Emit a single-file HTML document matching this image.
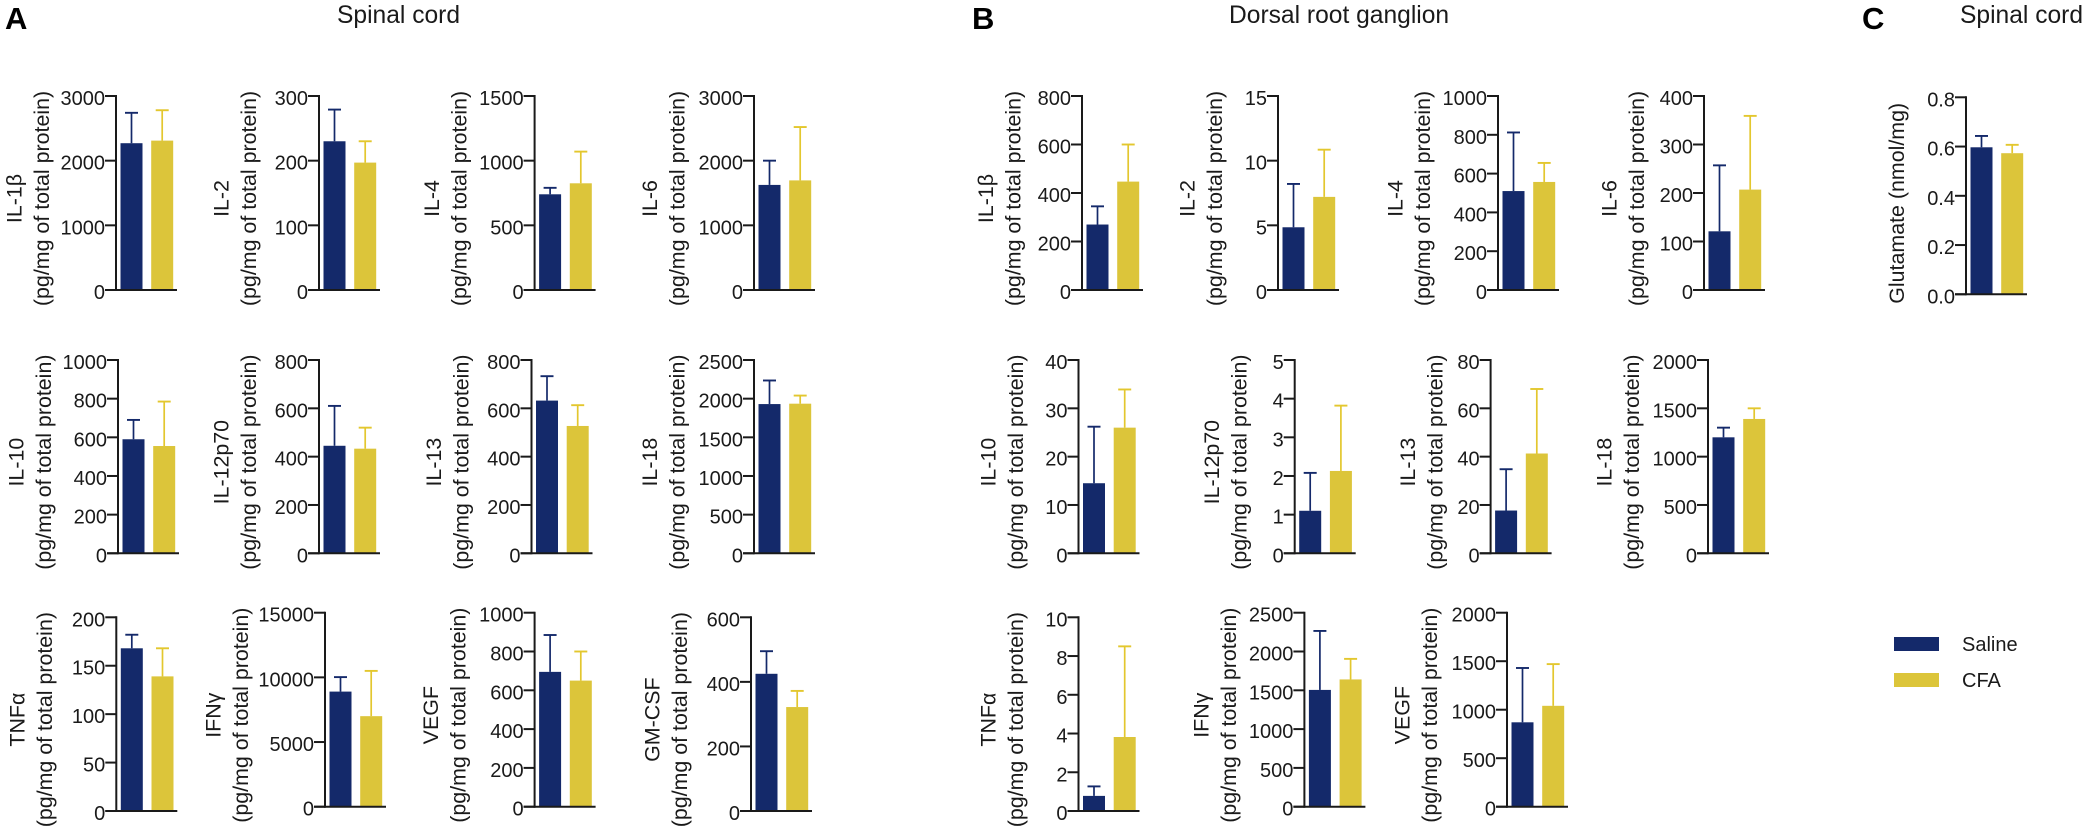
<!DOCTYPE html>
<html lang="en">
<head>
<meta charset="utf-8">
<title>Cytokine levels in spinal cord and dorsal root ganglion</title>
<style>
html,body{margin:0;padding:0;background:#fff;}
#figure{position:relative;width:2090px;height:833px;overflow:hidden;background:#fff;font-family:"Liberation Sans",Arial,sans-serif;color:#1a1a1a;}
svg{position:absolute;left:0;top:0;}
text{font-family:"Liberation Sans",Arial,sans-serif;fill:#1a1a1a;}
.hd{position:absolute;white-space:nowrap;line-height:1;}
.letter{font-weight:bold;font-size:31px;color:#000;}
.title{font-size:24.6px;}
.sw{position:absolute;left:1894px;width:45px;height:14px;}
.lg{position:absolute;left:1962px;font-size:20px;line-height:1;}
</style>
</head>
<body>
<div id="figure">
  <svg id="chart" width="2090" height="833" viewBox="0 0 2090 833"></svg>
  <div class="hd letter" style="left:5px;top:3px">A</div>
  <div class="hd title" style="left:337px;top:4px">Spinal cord</div>
  <div class="hd letter" style="left:972px;top:3px">B</div>
  <div class="hd title" style="left:1229px;top:4px">Dorsal root ganglion</div>
  <div class="hd letter" style="left:1862px;top:3px">C</div>
  <div class="hd title" style="left:1960px;top:4px">Spinal cord</div>
  <div class="sw" style="top:637px;background:#14296a"></div>
  <div class="lg" style="top:635px">Saline</div>
  <div class="sw" style="top:673px;background:#dcc53a"></div>
  <div class="lg" style="top:671px">CFA</div>
</div>
<script>
// ---- data: order is panel A (12), panel B (11), panel C (1) ----
const panelNames = ['IL-1β','IL-2','IL-4','IL-6','IL-10','IL-12p70','IL-13','IL-18','TNFα','IFNγ','VEGF','GM-CSF',
  'IL-1β','IL-2','IL-4','IL-6','IL-10','IL-12p70','IL-13','IL-18','TNFα','IFNγ','VEGF',
  'Glutamate (nmol/mg)'];
const unitLabel = '(pg/mg of total protein)';
const salineMean = [2270,230,740,1625,590,445,632,1930,168,8900,695,425,
  270,4.85,510,121,14.5,1.1,17.7,1200,0.78,1505,870,
  0.597];
const salineUpper = [2740,279,790,2000,690,610,733,2235,182,10020,885,495,
  345,8.2,812,257,26.2,2.08,34.8,1300,1.27,2265,1430,
  0.643];
const cfaMean = [2310,197,825,1695,555,433,527,1935,139,7000,650,322,
  447,7.2,557,207,26,2.13,41.3,1390,3.82,1640,1040,
  0.573];
const cfaUpper = [2780,230,1070,2520,785,520,613,2040,168,10500,800,372,
  600,10.85,655,359,33.9,3.82,68,1500,8.5,1905,1470,
  0.607];
const tickLabels = [
  ['0','1000','2000','3000'],['0','100','200','300'],['0','500','1000','1500'],['0','1000','2000','3000'],
  ['0','200','400','600','800','1000'],['0','200','400','600','800'],['0','200','400','600','800'],['0','500','1000','1500','2000','2500'],
  ['0','50','100','150','200'],['0','5000','10000','15000'],['0','200','400','600','800','1000'],['0','200','400','600'],
  ['0','200','400','600','800'],['0','5','10','15'],['0','200','400','600','800','1000'],['0','100','200','300','400'],
  ['0','10','20','30','40'],['0','1','2','3','4','5'],['0','20','40','60','80'],['0','500','1000','1500','2000'],
  ['0','2','4','6','8','10'],['0','500','1000','1500','2000','2500'],['0','500','1000','1500','2000'],
  ['0.0','0.2','0.4','0.6','0.8']
];

// ---- layout of the small multiples (not data) ----
const layoutAxisX = [116,319,534.6,754, 118,319,531.5,754, 116.3,325,534.6,751,
  1082,1278,1498,1704, 1078.5,1294.7,1490.6,1708, 1078.5,1304.4,1507, 1966];
const layoutTop = [96,96,96,96, 360,360,360,360, 617.3,612.7,612.7,617.3,
  96,96,96,96, 360,360,360,360, 617.3,612.7,612.7, 97.3];
const layoutBottom = [290,290,290,290, 553.3,553.3,553.3,553.3, 811,806.7,806.7,811,
  290,290,290,290, 553.3,553.3,553.3,553.3, 811,806.7,806.7, 294.3];
const layoutTitleX = [49,256,466.6,684.6, 50.8,256,468.5,684.6, 52,248,465.4,687,
  1020.5,1222,1430,1644, 1023,1246.5,1442.5,1639, 1023,1236,1437, 1904];

const NAVY = '#14296a', GOLD = '#dcc53a', GOLD_LINE = '#e3c72e', INK = '#1a1a1a';
const NS = 'http://www.w3.org/2000/svg';
const svg = document.getElementById('chart');

function mk(parent, tag, attrs) {
  const el = document.createElementNS(NS, tag);
  for (const k in attrs) el.setAttribute(k, attrs[k]);
  parent.appendChild(el);
  return el;
}

panelNames.forEach(function (name, i) {
  const ax = layoutAxisX[i], top = layoutTop[i], bottom = layoutBottom[i];
  const ticks = tickLabels[i];
  const vMax = parseFloat(ticks[ticks.length - 1]);
  const y = function (v) { return bottom - (v / vMax) * (bottom - top); };
  const slug = name.toLowerCase().replace(/[^a-z0-9]+/g, '-') + '-' + i;

  const g = mk(svg, 'g', {});
  
  

  // bars
  [[salineMean[i], salineUpper[i], NAVY, NAVY, 4.5, 'saline'],
   [cfaMean[i], cfaUpper[i], GOLD, GOLD_LINE, 35.2, 'cfa']].forEach(function (s) {
    const bw = 22, left = ax + s[4], cx = left + bw / 2;
    const whisker = mk(g, 'line', {x1: cx, x2: cx, y1: y(s[0]), y2: y(s[1]), stroke: s[3], 'stroke-width': 1.7});
    
    
    const cap = mk(g, 'line', {x1: cx - 6.5, x2: cx + 6.5, y1: y(s[1]), y2: y(s[1]), stroke: s[3], 'stroke-width': 1.9});
    
    
    const bar = mk(g, 'rect', {x: left, y: y(s[0]), width: bw, height: bottom - y(s[0]), fill: s[2]});
    
    
  });

  // axes
  const yAxis = mk(g, 'line', {x1: ax, x2: ax, y1: top - 1, y2: bottom + 1, stroke: INK, 'stroke-width': 2});
  
  
  const xAxis = mk(g, 'line', {x1: ax - 11, x2: ax + 61, y1: bottom, y2: bottom, stroke: INK, 'stroke-width': 2});
  
  

  // ticks
  ticks.forEach(function (lab) {
    const ty = y(parseFloat(lab));
    const tick = mk(g, 'line', {x1: ax - 11, x2: ax, y1: ty, y2: ty, stroke: INK, 'stroke-width': 2});
    
    
    const t = mk(g, 'text', {x: ax - 11, y: ty + 9, 'text-anchor': 'end', 'font-size': 20});
    t.textContent = lab;
    
    
  });

  // y titles
  const tx = layoutTitleX[i], cy = (top + bottom) / 2 + 5.5;
  const isLast = i === panelNames.length - 1;
  if (isLast) {
    const t = mk(g, 'text', {transform: 'translate(' + tx + ',' + (cy + 2) + ') rotate(-90)', 'text-anchor': 'middle', 'font-size': 21.4});
    t.textContent = name;
    
    
  } else {
    const l1 = mk(g, 'text', {transform: 'translate(' + (tx - 27.5) + ',' + cy + ') rotate(-90)', 'text-anchor': 'middle', 'font-size': 21.4});
    l1.textContent = name;
    
    
    const l2 = mk(g, 'text', {transform: 'translate(' + tx + ',' + cy + ') rotate(-90)', 'text-anchor': 'middle', 'font-size': 21.4});
    l2.textContent = unitLabel;
    
    
  }
});
</script>
</body>
</html>
